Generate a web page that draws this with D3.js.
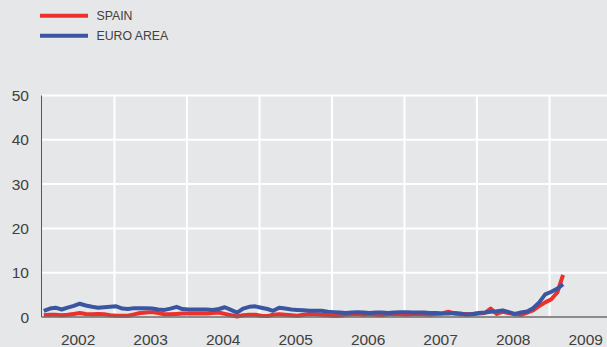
<!DOCTYPE html>
<html><head><meta charset="utf-8">
<script src="https://cdn.jsdelivr.net/npm/d3@7"></script>
<style>
html,body{margin:0;padding:0;background:#e6e7e8;}
svg{display:block;}
text{font-family:"Liberation Sans",Arial,Helvetica,sans-serif;fill:#404040;}
</style></head>
<body>
<svg id="chart" width="607" height="347"></svg>
<script>
// ---- data ----
const startMonth = "2002-01";
const spain = [0.4,0.5,0.5,0.4,0.5,0.7,0.9,0.7,0.6,0.7,0.6,0.4,
  0.3,0.3,0.3,0.6,0.9,1.0,1.1,0.9,0.6,0.6,0.7,0.8,
  0.8,0.8,0.8,0.8,0.9,1.0,0.7,0.4,0.1,0.4,0.5,0.5,
  0.3,0.2,0.5,0.6,0.5,0.4,0.3,0.5,0.7,0.6,0.5,0.4,
  0.2,0.3,0.5,0.6,0.6,0.5,0.6,0.5,0.4,0.6,0.7,0.6,
  0.5,0.6,0.7,0.6,0.5,0.7,0.8,1.2,0.8,0.6,0.7,0.6,
  0.8,0.9,1.9,0.7,1.2,0.9,0.6,0.5,1.0,1.5,2.5,3.3,4.0,5.6,9.5];
const euroArea = [1.4,1.9,2.1,1.7,2.1,2.5,3.0,2.6,2.3,2.1,2.2,2.3,
  2.4,1.9,1.8,2.0,2.0,2.0,1.9,1.7,1.6,1.9,2.3,1.8,
  1.7,1.7,1.7,1.7,1.6,1.8,2.2,1.6,1.0,1.9,2.3,2.4,
  2.1,1.8,1.4,2.1,1.9,1.7,1.6,1.5,1.4,1.4,1.4,1.2,
  1.1,1.0,0.9,1.0,1.1,1.0,0.9,1.0,1.0,0.9,1.0,1.1,
  1.1,1.0,1.0,1.0,0.9,0.9,0.8,0.8,0.9,0.8,0.5,0.7,
  0.9,1.0,1.2,1.3,1.5,1.1,0.7,1.0,1.25,2.0,3.3,5.1,5.7,6.4,7.4];
const yTicks = [0,10,20,30,40,50];
const yearLabels = ["2002","2003","2004","2005","2006","2007","2008","2009"];
const seriesNames = ["SPAIN","EURO AREA"];
const seriesColors = ["#ec302b","#3a56a2"];

// ---- layout ----
const svg = d3.select("#chart");
const plotLeft = 41.5, plotRight = 607, plotTop = 95.5, plotBottom = 317;
const parse = d3.timeParse("%Y-%m");
const t0 = parse(startMonth);
const dates = spain.map((_, i) => d3.timeDay.offset(d3.timeMonth.offset(t0, i), 9));

const x = d3.scaleTime()
  .domain([new Date(2002,0,1), new Date(2010,0,1)])
  .range([42, 622]);
const y = d3.scaleLinear().domain([0,50]).range([plotBottom, plotTop]);

// horizontal grid
svg.append("g").selectAll("line").data(yTicks.filter(d => d > 0)).join("line")
  .attr("x1", plotLeft).attr("x2", plotRight)
  .attr("y1", d => y(d)).attr("y2", d => y(d))
  .attr("stroke", "#fff").attr("stroke-width", 2);

// vertical grid at year boundaries
const yearStarts = yearLabels.slice(1).map(s => new Date(+s, 0, 1));
svg.append("g").selectAll("line").data(yearStarts).join("line")
  .attr("x1", d => x(d)).attr("x2", d => x(d))
  .attr("y1", plotTop).attr("y2", plotBottom)
  .attr("stroke", "#fff").attr("stroke-width", 2);

// y axis line
svg.append("line").attr("x1", plotLeft).attr("x2", plotLeft).attr("y1", plotTop).attr("y2", plotBottom)
  .attr("stroke", "#555").attr("stroke-width", 1);

// y tick labels
svg.append("g").selectAll("text").data(yTicks).join("text")
  .attr("x", 29).attr("y", d => y(d)).attr("dy", "0.36em")
  .attr("text-anchor", "end").attr("font-size", 15.5).text(d => d);

// x labels
svg.append("g").selectAll("text").data(yearLabels).join("text")
  .attr("x", d => x(new Date(+d, 6, 2))).attr("y", 344.5)
  .attr("text-anchor", "middle").attr("font-size", 15.5).text(d => d);

// series
const line = d3.line().x((d, i) => x(dates[i])).y(d => y(d));
[spain, euroArea].forEach((s, k) => {
  svg.append("path").datum(s).attr("d", line)
    .attr("fill", "none").attr("stroke", seriesColors[k])
    .attr("stroke-width", 4).attr("stroke-linejoin", "round");
});

// bottom axis line
svg.append("line").attr("x1", plotLeft).attr("x2", plotRight).attr("y1", plotBottom).attr("y2", plotBottom)
  .attr("stroke", "#6d6d6d").attr("stroke-width", 1.3);

// legend
const lg = svg.append("g").selectAll("g").data(seriesNames).join("g")
  .attr("transform", (d, i) => `translate(0,${15.7 + i * 20})`);
lg.append("line").attr("x1", 40).attr("x2", 88).attr("y1", 0).attr("y2", 0)
  .attr("stroke", (d, i) => seriesColors[i]).attr("stroke-width", 4);
lg.append("text").attr("x", 96.5).attr("y", 0).attr("dy", "0.36em")
  .attr("font-size", 12.3).text(d => d);
</script>
</body></html>
